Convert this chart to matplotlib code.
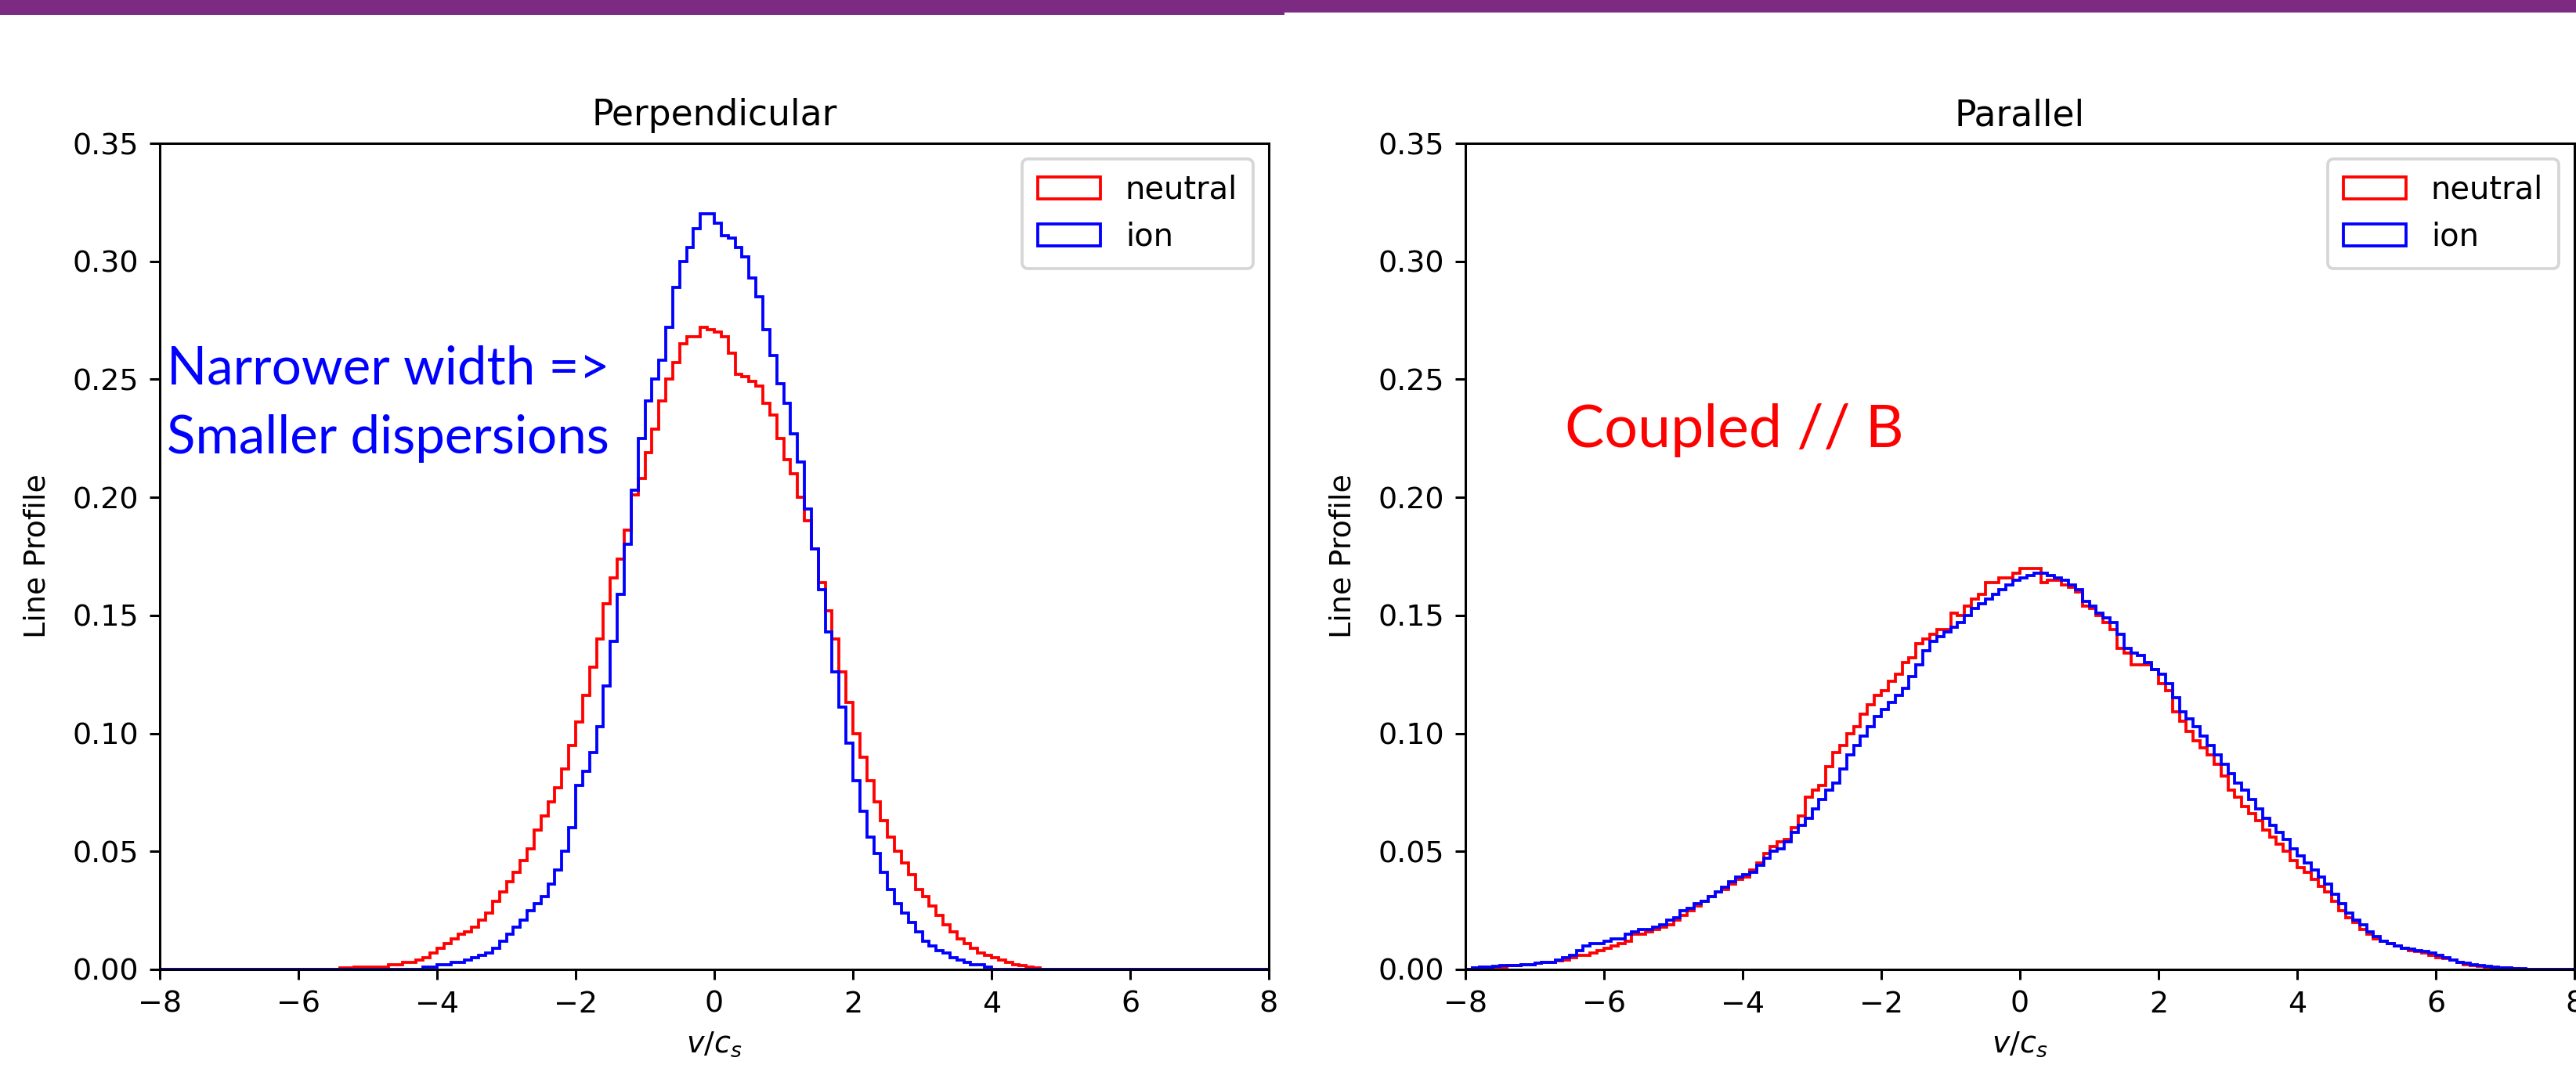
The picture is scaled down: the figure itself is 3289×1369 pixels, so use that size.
import numpy as np
import matplotlib
matplotlib.use('Agg')
import matplotlib.pyplot as plt
from matplotlib.patches import Rectangle

# Line profiles, bin width 0.1, each list starts at the given left edge

# Perpendicular, neutral (starts at -5.4)
perp_neutral_start = -5.4
perp_neutral = [
    0.0005, 0.0005, 0.001, 0.001, 0.001, 0.001, 0.001, 0.002, 0.002, 0.003,
    0.003, 0.004, 0.005, 0.007, 0.009, 0.011, 0.013, 0.015, 0.016, 0.018,
    0.021, 0.024, 0.029, 0.033, 0.037, 0.041, 0.046, 0.051, 0.059, 0.065,
    0.071, 0.077, 0.085, 0.095, 0.105, 0.116, 0.128, 0.140, 0.155, 0.166,
    0.174, 0.186, 0.201, 0.208, 0.219, 0.229, 0.241, 0.250, 0.257, 0.265,
    0.268, 0.268, 0.272, 0.271, 0.270, 0.268, 0.261, 0.252, 0.251, 0.249,
    0.247, 0.240, 0.235, 0.225, 0.216, 0.210, 0.200, 0.190, 0.178, 0.164,
    0.152, 0.140, 0.126, 0.113, 0.100, 0.090, 0.080, 0.071, 0.063, 0.056,
    0.050, 0.045, 0.040, 0.034, 0.031, 0.027, 0.023, 0.019, 0.016, 0.013,
    0.011, 0.009, 0.007, 0.006, 0.005, 0.004, 0.003, 0.002, 0.0015, 0.001,
    0.0005,
]

# Perpendicular, ion (starts at -4.3)
perp_ion_start = -4.3
perp_ion = [
    0.000, 0.001, 0.001, 0.002, 0.002, 0.003, 0.003, 0.004, 0.005, 0.006,
    0.007, 0.009, 0.012, 0.015, 0.018, 0.021, 0.025, 0.028, 0.031, 0.036,
    0.042, 0.050, 0.060, 0.078, 0.084, 0.092, 0.103, 0.120, 0.139, 0.159,
    0.180, 0.203, 0.225, 0.241, 0.250, 0.258, 0.272, 0.289, 0.300, 0.306,
    0.314, 0.320, 0.320, 0.316, 0.311, 0.310, 0.306, 0.302, 0.293, 0.285,
    0.271, 0.260, 0.248, 0.240, 0.227, 0.215, 0.195, 0.178, 0.161, 0.143,
    0.126, 0.111, 0.096, 0.080, 0.067, 0.056, 0.049, 0.041, 0.034, 0.028,
    0.024, 0.020, 0.016, 0.012, 0.010, 0.008, 0.007, 0.005, 0.004, 0.003,
    0.002, 0.002, 0.001, 0.000,
]

# Parallel, neutral (starts at -7.9)
par_neutral_start = -7.9
par_neutral = [
    0.0005, 0.001, 0.001, 0.001, 0.001, 0.0015, 0.0015, 0.002, 0.002, 0.0025,
    0.003, 0.003, 0.0035, 0.004, 0.005, 0.006, 0.006, 0.007, 0.008, 0.009,
    0.010, 0.011, 0.012, 0.015, 0.015, 0.016, 0.017, 0.018, 0.019, 0.021,
    0.023, 0.025, 0.027, 0.029, 0.031, 0.033, 0.034, 0.036, 0.038, 0.039,
    0.042, 0.045, 0.049, 0.052, 0.054, 0.055, 0.060, 0.065, 0.073, 0.076,
    0.078, 0.086, 0.092, 0.095, 0.100, 0.103, 0.108, 0.112, 0.116, 0.118,
    0.122, 0.125, 0.130, 0.132, 0.138, 0.140, 0.142, 0.144, 0.144, 0.151,
    0.150, 0.154, 0.157, 0.159, 0.164, 0.164, 0.166, 0.166, 0.168, 0.170,
    0.170, 0.170, 0.164, 0.165, 0.165, 0.163, 0.162, 0.160, 0.154, 0.153,
    0.150, 0.147, 0.144, 0.136, 0.134, 0.129, 0.129, 0.129, 0.127, 0.121,
    0.118, 0.109, 0.105, 0.101, 0.097, 0.094, 0.091, 0.087, 0.082, 0.076,
    0.073, 0.069, 0.066, 0.063, 0.059, 0.056, 0.053, 0.050, 0.046, 0.043,
    0.041, 0.038, 0.035, 0.033, 0.029, 0.025, 0.022, 0.020, 0.017, 0.015,
    0.013, 0.012, 0.011, 0.010, 0.009, 0.008, 0.0075, 0.007, 0.006, 0.005,
    0.0045, 0.004, 0.003, 0.002, 0.0015, 0.0012, 0.001, 0.0008, 0.0006, 0.0005,
    0.0003,
]

# Parallel, ion (starts at -7.9)
par_ion_start = -7.9
par_ion = [
    0.0005, 0.001, 0.001, 0.0012, 0.0015, 0.0015, 0.0018, 0.002, 0.002, 0.0025,
    0.003, 0.003, 0.004, 0.005, 0.006, 0.008, 0.010, 0.011, 0.011, 0.012,
    0.013, 0.013, 0.015, 0.016, 0.017, 0.017, 0.018, 0.019, 0.021, 0.022,
    0.025, 0.026, 0.028, 0.029, 0.031, 0.033, 0.035, 0.037, 0.039, 0.040,
    0.041, 0.044, 0.047, 0.050, 0.051, 0.054, 0.058, 0.061, 0.064, 0.068,
    0.072, 0.076, 0.079, 0.085, 0.091, 0.095, 0.099, 0.103, 0.107, 0.110,
    0.113, 0.116, 0.119, 0.124, 0.129, 0.135, 0.139, 0.141, 0.143, 0.145,
    0.147, 0.150, 0.153, 0.155, 0.157, 0.159, 0.161, 0.163, 0.165, 0.166,
    0.167, 0.168, 0.168, 0.167, 0.166, 0.165, 0.163, 0.161, 0.156, 0.154,
    0.151, 0.149, 0.147, 0.142, 0.136, 0.134, 0.133, 0.130, 0.127, 0.125,
    0.121, 0.115, 0.109, 0.106, 0.103, 0.099, 0.095, 0.091, 0.087, 0.083,
    0.079, 0.076, 0.072, 0.068, 0.064, 0.061, 0.058, 0.055, 0.051, 0.048,
    0.045, 0.042, 0.039, 0.036, 0.032, 0.028, 0.024, 0.021, 0.019, 0.016,
    0.014, 0.012, 0.011, 0.010, 0.009, 0.0085, 0.008, 0.0075, 0.007, 0.006,
    0.005, 0.004, 0.003, 0.0025, 0.002, 0.0015, 0.0013, 0.001, 0.0008, 0.0005,
    0.0004, 0.0003,
]

edges = np.round(np.arange(-8, 8.0001, 0.1), 2)
centers = 0.5 * (edges[:-1] + edges[1:])


# put a segment of bin values onto the full -8..8 grid
def full_profile(start, vals):
    out = np.zeros(len(centers))
    i0 = int(round((start + 8) / 0.1))
    out[i0:i0 + len(vals)] = vals
    return out


W, H = 3289, 1369
DPI = 274
fig = plt.figure(figsize=(W / DPI, H / DPI), dpi=DPI)

# purple bars of the slide on top
fig.add_artist(Rectangle((0, 1 - 19 / H), 1640 / W, 19 / H, transform=fig.transFigure,
                         color='#7d2a83', lw=0))
fig.add_artist(Rectangle((1640 / W, 1 - 16 / H), 1 - 1640 / W, 16 / H, transform=fig.transFigure,
                         color='#7d2a83', lw=0))

ax1 = fig.add_axes([204 / W, 131 / H, 1416 / W, 1055 / H])
ax2 = fig.add_axes([1871 / W, 131 / H, 1416 / W, 1055 / H])

panels = [
    (ax1, 'Perpendicular', full_profile(perp_neutral_start, perp_neutral),
     full_profile(perp_ion_start, perp_ion)),
    (ax2, 'Parallel', full_profile(par_neutral_start, par_neutral),
     full_profile(par_ion_start, par_ion)),
]

for ax, title, neutral, ion in panels:
    ax.hist(centers, bins=edges, weights=neutral, histtype='step', color='red', label='neutral')
    ax.hist(centers, bins=edges, weights=ion, histtype='step', color='blue', label='ion')
    ax.set_xlim(-8, 8)
    ax.set_ylim(0, 0.35)
    ax.set_yticks(np.arange(0, 0.351, 0.05))
    ax.set_title(title)
    ax.set_xlabel('$v/c_s$')
    ax.set_ylabel('Line Profile', labelpad=7)
    ax.legend(loc='upper right', fontsize=10.5, borderpad=0.5)

# slide annotations
fig.text(213 / W, 1 - 491 / H, 'Narrower width =>', color='#0000ff', fontsize=17.7,
         family=['Lato', 'DejaVu Sans'], va='baseline', ha='left')
fig.text(213 / W, 1 - 579 / H, 'Smaller dispersions', color='#0000ff', fontsize=17.7,
         family=['Lato', 'DejaVu Sans'], va='baseline', ha='left')
fig.text(1998 / W, 1 - 571 / H, 'Coupled // B', color='#ff0000', fontsize=19.8,
         family=['Lato', 'DejaVu Sans'], va='baseline', ha='left')

fig.savefig('out.png', dpi=DPI)
